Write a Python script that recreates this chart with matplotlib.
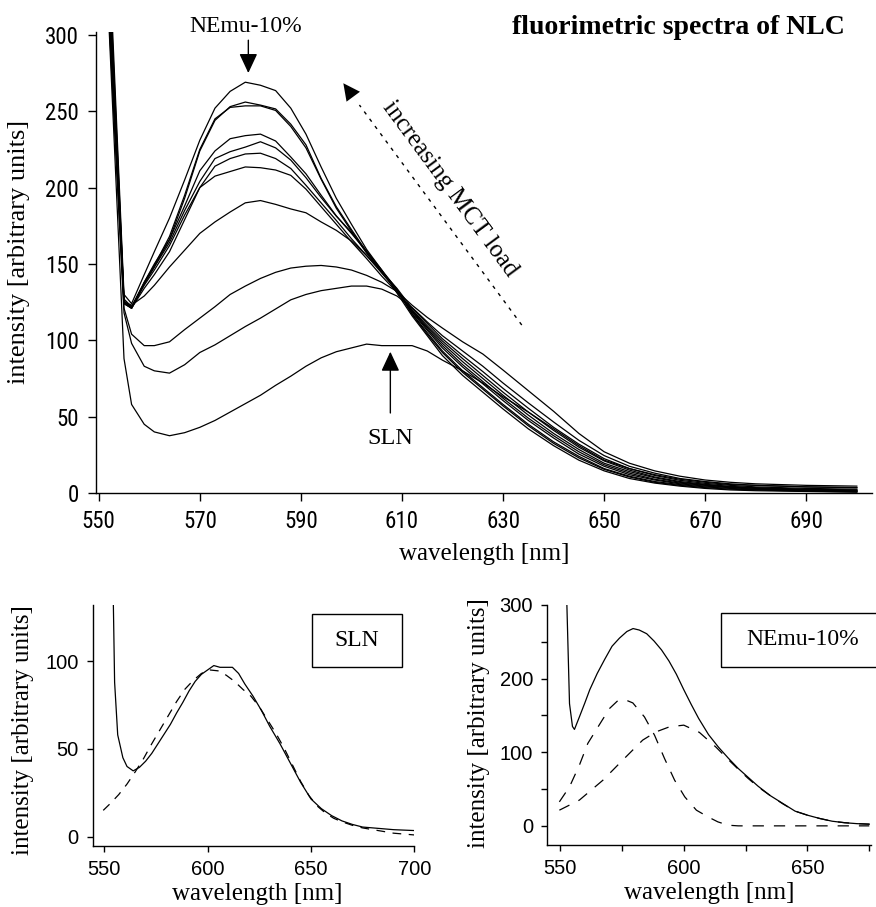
import matplotlib
matplotlib.use("Agg")
import matplotlib.pyplot as plt
from matplotlib import font_manager
from matplotlib.patches import Rectangle
import numpy as np

# ---------------- data ----------------
wavelength = [552, 555, 556.5, 559, 561, 564, 567, 570, 573, 576, 579, 582, 585, 588,
              591, 594, 597, 600, 603, 606, 609, 612, 615, 618, 622, 626, 630, 635,
              640, 645, 650, 655, 660, 665, 670, 675, 680, 690, 700]

nemu_10 = [360, 130, 124, 143, 158, 180, 205, 231, 252, 263, 269, 267, 263.5, 252,
           235, 213.5, 193, 176, 159.5, 146, 131, 116, 103, 90, 77, 66, 55, 42,
           31, 21.5, 14.5, 9.5, 6.5, 4.5, 3, 2, 1.5, 1, 0.5]
nlc_b1 = [340, 126, 121, 137, 148, 166, 193, 224, 244, 253, 256, 254, 251.5, 241.5,
          228, 206, 187.5, 172.5, 158, 145.5, 133, 117, 104, 92, 79, 68, 57, 44,
          32.5, 23, 15.5, 10.5, 7, 5, 3.5, 2.5, 2, 1.2, 0.8]
nlc_b2 = [350, 127, 122, 138, 149, 168, 195, 225, 245, 252.5, 253.5, 253.5, 250.5, 240,
          226, 205.5, 186.5, 171.5, 157, 144.5, 132.5, 117.5, 105, 93, 80, 69, 58, 45,
          33.5, 24, 16, 11, 7.5, 5.5, 4, 3, 2.2, 1.5, 1]
nlc_c = [330, 125, 121, 138, 150, 166, 188, 211, 224, 232, 234, 235, 230.5, 220,
         209, 195, 181.5, 170, 158, 145, 133, 118.5, 106.5, 95, 82.5, 71.5, 60.5, 47.5,
         36, 25.5, 17.5, 12, 8.5, 6, 4.5, 3.5, 2.5, 1.8, 1.2]
nlc_d = [345, 125, 122, 137, 148, 164, 185, 204, 219, 223.5, 226.5, 230, 226, 218,
         206.5, 193.5, 181.3, 170.7, 158.4, 146, 133.5, 119, 107.5, 96.5, 84, 73, 62, 49,
         37.5, 27, 18.5, 13, 9, 6.5, 5, 3.8, 3, 2, 1.5]
nlc_e = [325, 124, 121, 136, 146, 162, 182, 200, 214, 219, 222, 222.5, 219, 212.5,
         201.5, 190, 178.5, 166.5, 155.5, 144, 132.5, 119.5, 108.5, 98, 86, 75, 64, 51,
         39, 28.5, 19.5, 14, 10, 7, 5.3, 4, 3.2, 2.2, 1.7]
nlc_f = [335, 124, 121, 134, 143, 158, 179, 200, 207.5, 210.5, 213.5, 213, 211.5, 208,
         199, 187.5, 176, 164.5, 153.5, 142, 131.5, 120, 109.5, 99.5, 88, 77, 66, 53,
         41, 30, 21, 15, 10.5, 7.5, 5.7, 4.3, 3.5, 2.5, 2]
nlc_g = [320, 125, 123, 129, 136, 148, 159, 170, 177.5, 184, 190, 191.5, 189, 186,
         183.5, 177.5, 172, 165, 155.5, 145, 134, 121, 111, 101, 90, 79.5, 68.5, 55.5,
         43, 32, 22.5, 16, 11.5, 8.3, 6.3, 5, 4, 3, 2.5]
nlc_h = [315, 121, 104, 96.5, 96.5, 99, 107, 114.5, 122, 130, 135.5, 140.5, 144.5, 147.3,
         148.5, 149, 148, 146, 142.5, 138, 132, 123, 115, 108, 99, 91, 80.5, 67,
         53.5, 39, 27, 19.5, 14.5, 11, 8.5, 7, 6, 5, 4.5]
nlc_i = [312, 118, 98, 83, 80, 78.5, 84, 92, 97, 103, 109, 114.5, 120.5, 126.5,
         130, 132.5, 134, 135.5, 135.5, 133.5, 129, 121.5, 112, 103, 93, 83, 72, 59,
         46.5, 34.5, 24.5, 17.5, 13, 9.5, 7.5, 6, 5, 4, 3.5]
sln = [308, 88, 58, 45, 40, 37.5, 39.5, 43, 47.5, 53, 58.5, 64, 70.5, 76.5,
       83, 88.5, 92.5, 95, 97.5, 96.5, 96.5, 96.5, 93, 87, 80, 72, 63, 53,
       42, 31, 21.5, 16, 12, 9, 7, 5.5, 5, 4, 3.5]

main_series = [nemu_10, nlc_b1, nlc_b2, nlc_c, nlc_d, nlc_e, nlc_f, nlc_g, nlc_h, nlc_i, sln]

# SLN inset: fitted (dashed) curve
sln_fit_wl = [549.5, 553, 557, 561, 565, 569, 573, 577, 581, 585, 589, 593, 597, 601,
              605, 609, 613, 617, 621, 625, 629, 633, 637, 641, 645, 649, 653, 657,
              661, 665, 670, 675, 680, 685, 690, 695, 700]
sln_fit = [15, 19, 24, 30, 37, 44.5, 53, 61, 69, 77, 84, 89, 93, 95,
           94.5, 92, 88.5, 84, 80, 74, 66.5, 59, 50.5, 41, 31.5, 23.5, 17.5, 13.5,
           10.5, 8.5, 6.5, 5, 4, 3, 2, 1.5, 1]

# NEmu-10% inset: measured spectrum and two fitted components
nemu_wl = [552.7, 553.8, 555, 555.8, 557.8, 560, 562, 565, 568, 571, 574, 577, 579.5, 582,
           585, 588, 591, 594, 597, 600, 603, 606, 610, 614, 618, 622, 626, 630,
           635, 640, 645, 650, 655, 660, 665, 670, 675]
nemu_meas = [305, 166, 135, 131, 148, 167, 185, 207, 226, 244, 255, 264, 268, 266,
             261, 251, 239, 224, 206, 185, 165, 146, 124, 107, 92, 78, 66, 54,
             41, 30.5, 20, 14.5, 10, 6.3, 4.3, 3, 2.3]
comp1_wl = [549.7, 553.8, 557.8, 561.2, 566.6, 570, 573.3, 576.5, 579.4, 584.1, 588.2,
            592.2, 596.3, 600.4, 605.1, 609.8, 613.8, 617.9, 622, 630, 640, 650, 660, 675]
comp1 = [32.6, 53, 82.5, 112, 141.3, 159.5, 170, 171, 167, 148, 123,
         91.6, 62, 39.4, 21.3, 12.2, 5.4, 0.9, 0, 0, 0, 0, 0, 0]
comp2_wl = [549.7, 557.8, 567.3, 575.3, 583.4, 588.8, 594.2, 600, 606.3, 613, 618, 622,
            626, 630, 635, 640, 645, 650, 655, 660, 665, 670, 675]
comp2 = [21.3, 35, 62, 89.3, 116.5, 127.7, 134.5, 136.8, 127, 107, 90, 77,
         64.5, 53, 41, 30, 20, 14.5, 10, 6.3, 4.3, 3, 2.3]

main_xticks = [550, 570, 590, 610, 630, 650, 670, 690]
main_yticks = [0, 50, 100, 150, 200, 250, 300]

# ---------------- fonts ----------------
names = {f.name for f in font_manager.fontManager.ttflist}
SERIF = "Liberation Serif" if "Liberation Serif" in names else "DejaVu Serif"
SANS = "Liberation Sans" if "Liberation Sans" in names else "DejaVu Sans"
narrow_props = None
for cand in ["Liberation Sans Narrow", "Roboto Condensed", "Open Sans Condensed", "Arial Narrow"]:
    if cand in names:
        narrow_props = dict(family=cand)
        break
if narrow_props is None:
    has_dv_cond = any(("Condensed" in f.fname and f.name == "DejaVu Sans")
                      for f in font_manager.fontManager.ttflist)
    if has_dv_cond:
        narrow_props = dict(family="DejaVu Sans", stretch="condensed")
    else:
        narrow_props = dict(family=SANS)

W, H = 876, 907
fig = plt.figure(figsize=(W / 100, H / 100), dpi=100)


def fx(px):
    return px / W


def fy(py):
    return 1 - py / H


# ---------------- main panel ----------------
ax = fig.add_axes([fx(95.7), fy(493), (872 - 95.7) / W, (493 - 31.8) / H])
for s in main_series:
    ax.plot(wavelength, s, color="black", lw=0.9)
ax.set_xlim(549.4, 703.0)
ax.set_ylim(0, 302)
ax.spines["top"].set_visible(False)
ax.spines["right"].set_visible(False)
for sp in ("left", "bottom"):
    ax.spines[sp].set_linewidth(1.0)
ax.set_xticks(main_xticks)
ax.set_yticks(main_yticks)
ax.tick_params(direction="out", length=6, width=1.0, pad=6)
for lab in ax.get_xticklabels() + ax.get_yticklabels():
    lab.set_fontsize(16.5)
    lab.set_family(narrow_props["family"])
    if "stretch" in narrow_props:
        lab.set_fontstretch(narrow_props["stretch"])
ax.set_xlabel("wavelength [nm]", family=SERIF, fontsize=18, va="center")
ax.xaxis.set_label_coords(0.5, -0.132)
ax.set_ylabel("intensity [arbitrary units]", family=SERIF, fontsize=19, va="center")
ax.yaxis.set_label_coords(-0.099, 0.523)

# NEmu-10% annotation
ax.text(579.0, 305.5, "NEmu-10%", family=SERIF, fontsize=17, ha="center", va="center",
        clip_on=False)
ax.annotate("", xy=(579.6, 275), xytext=(579.6, 296.5), annotation_clip=False,
            arrowprops=dict(arrowstyle="-|>,head_length=0.6,head_width=0.28",
                            mutation_scale=20, color="black", lw=1.0,
                            shrinkA=0, shrinkB=0))
# SLN annotation
ax.text(607.7, 36, "SLN", family=SERIF, fontsize=17.5, ha="center", va="center")
ax.annotate("", xy=(607.7, 92.5), xytext=(607.7, 52.4),
            arrowprops=dict(arrowstyle="-|>,head_length=0.6,head_width=0.28",
                            mutation_scale=20, color="black", lw=1.0,
                            shrinkA=0, shrinkB=0))
# increasing MCT load (dashed arrow)
tip = (598.4, 268.3)
tail = (633.7, 110.0)
ax.plot([tail[0], tip[0] + 0.09 * (tail[0] - tip[0])],
        [tail[1], tip[1] + 0.09 * (tail[1] - tip[1])],
        color="black", lw=1.0, ls=(0, (2.5, 4)))
ax.annotate("", xy=tip, xytext=(tip[0] + 0.1 * (tail[0] - tip[0]), tip[1] + 0.1 * (tail[1] - tip[1])),
            arrowprops=dict(arrowstyle="-|>,head_length=0.6,head_width=0.3",
                            mutation_scale=20, color="black", lw=0.01,
                            shrinkA=0, shrinkB=0))
p1 = ax.transData.transform(tip)
p2 = ax.transData.transform(tail)
ang = np.degrees(np.arctan2(p2[1] - p1[1], p2[0] - p1[0]))
ax.text(619.5, 199, "increasing MCT load", family=SERIF, fontsize=18, rotation=ang,
        rotation_mode="anchor", ha="center", va="center")

fig.text(fx(845), fy(28), "fluorimetric spectra of NLC", family=SERIF, fontsize=20,
         fontweight="bold", ha="right", va="center")

# ---------------- bottom-left: SLN ----------------
axL = fig.add_axes([fx(92.7), fy(846), (414.3 - 92.7) / W, (846 - 605) / H])
axL.plot(wavelength, sln, color="black", lw=0.9)
axL.plot(sln_fit_wl, sln_fit, color="black", lw=0.9, ls=(0, (7, 6)))
axL.set_xlim(544.4, 700)
axL.set_ylim(-5.3, 132)
axL.set_xticks([550, 600, 650, 700])
axL.set_yticks([0, 50, 100])

# ---------------- bottom-right: NEmu-10% ----------------
axR = fig.add_axes([fx(547), fy(845), 324 / W, 240 / H])
axR.plot(nemu_wl, nemu_meas, color="black", lw=0.9)
axR.plot(comp1_wl, comp1, color="black", lw=0.9, ls=(0, (9, 8)))
axR.plot(comp2_wl, comp2, color="black", lw=0.9, ls=(0, (9, 8)))
axR.set_xlim(544.7, 675.7)
axR.set_ylim(-26, 300)
axR.set_xticks([550, 600, 650])
axR.set_xticks([575, 625, 675], minor=True)
axR.set_yticks([0, 100, 200, 300])
axR.set_yticks([50, 150, 250], minor=True)

for a in (axL, axR):
    a.spines["top"].set_visible(False)
    a.spines["right"].set_visible(False)
    for sp in ("left", "bottom"):
        a.spines[sp].set_linewidth(1.0)
    a.tick_params(which="both", direction="out", length=4, width=1.0, pad=6)
    for lab in a.get_xticklabels() + a.get_yticklabels():
        lab.set_fontsize(14.5)
        lab.set_family(SANS)

axL.set_ylabel("intensity [arbitrary units]", family=SERIF, fontsize=18, va="center")
axL.yaxis.set_label_coords(-0.217, 0.481)
axL.set_xlabel("wavelength [nm]", family=SERIF, fontsize=18, va="bottom")
axL.xaxis.set_label_coords(0.511, -0.243)
axR.set_ylabel("intensity [arbitrary units]", family=SERIF, fontsize=18, va="center")
axR.yaxis.set_label_coords(-0.21, 0.51)
axR.set_xlabel("wavelength [nm]", family=SERIF, fontsize=18, va="bottom")
axR.xaxis.set_label_coords(0.5, -0.247)

axL.add_patch(Rectangle((0.681, 0.743), 0.28, 0.22, transform=axL.transAxes,
                        fill=False, lw=1.0, color="black", clip_on=False))
axL.text(0.8205, 0.853, "SLN", transform=axL.transAxes, family=SERIF, fontsize=17,
         ha="center", va="center")
axR.add_patch(Rectangle((0.537, 0.742), 0.56, 0.225, transform=axR.transAxes,
                        fill=False, lw=1.0, color="black", clip_on=False))
axR.text(0.79, 0.855, "NEmu-10%", transform=axR.transAxes, family=SERIF, fontsize=17,
         ha="center", va="center")

fig.savefig("out.png", dpi=100)
